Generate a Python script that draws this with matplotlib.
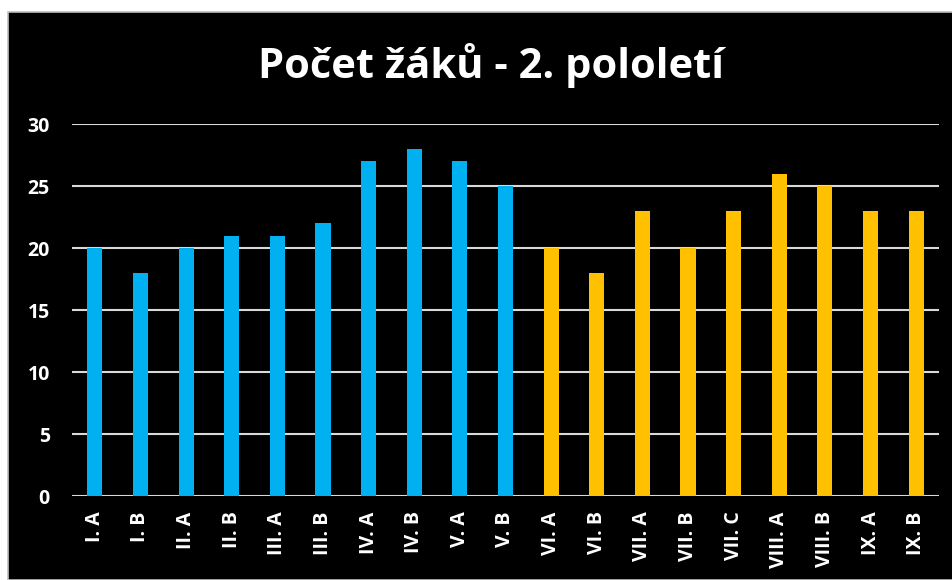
import matplotlib
matplotlib.use("Agg")
import matplotlib.pyplot as plt
from matplotlib.patches import Rectangle

categories = ["I. A", "I. B", "II. A", "II. B", "III. A", "III. B", "IV. A", "IV. B",
              "V. A", "V. B", "VI. A", "VI. B", "VII. A", "VII. B", "VII. C",
              "VIII. A", "VIII. B", "IX. A", "IX. B"]
values = [20, 18, 20, 21, 21, 22, 27, 28, 27, 25,
          20, 18, 23, 20, 23, 26, 25, 23, 23]
first_stage_count = 10
colors_stage = ["#00B0F0", "#FFC000"]
yticks = [0, 5, 10, 15, 20, 25, 30]
title = "Počet žáků - 2. pololetí"

plt.rcParams['font.family'] = ['Open Sans', 'DejaVu Sans']

W, H = 952, 580
fig = plt.figure(figsize=(W / 100, H / 100), dpi=100, facecolor="white")
fig.patches.append(Rectangle((8 / W, 0), 1 - 8 / W + 0.01, 1 - 12 / H,
                             transform=fig.transFigure, facecolor="black",
                             edgecolor="#BFBFBF", linewidth=1.2, zorder=-10))

ax = fig.add_axes([72 / W, 1 - 496 / H, (939 - 72) / W, (496 - 124) / H])
ax.set_zorder(5)
ax.set_facecolor("black")
ax.patch.set_alpha(0)

x = list(range(len(categories)))
cols = [colors_stage[0] if i < first_stage_count else colors_stage[1] for i in x]
ax.bar(x, values, width=0.33, color=cols, zorder=3)

ax.set_xlim(-0.5, len(categories) - 0.5)
ax.set_ylim(0, 30)
ax.set_yticks(yticks)
ax.set_yticklabels([str(v) for v in yticks])
ax.grid(axis="y", color="#D9D9D9", linewidth=1.5, zorder=1)
for s in ax.spines.values():
    s.set_visible(False)
ax.tick_params(axis="both", length=0, colors="white")
ax.tick_params(axis="y", pad=16)
ax.tick_params(axis="x", pad=11)
ax.set_xticks(x)
ax.set_xticklabels(categories, rotation=90, fontsize=14, fontweight="bold", color="white")
for lab in ax.get_yticklabels():
    lab.set_fontsize(14)
    lab.set_fontweight("bold")
    lab.set_color("white")

t = fig.text(491 / W, 1 - 65 / H, title, ha="center", va="center",
             fontsize=30, fontweight="bold", color="white")
t.set_zorder(6)

fig.savefig("out.png", dpi=100, facecolor="white")
